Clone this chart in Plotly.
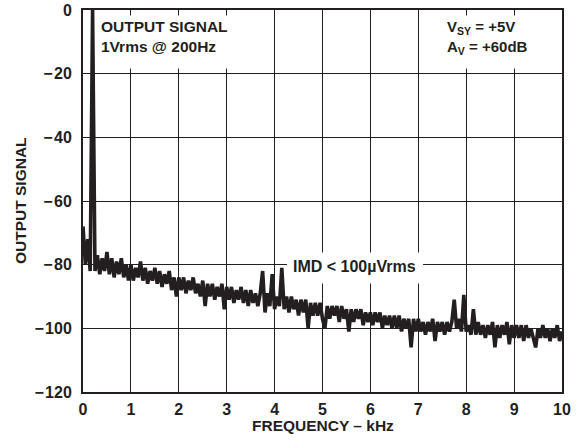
import plotly.graph_objects as go

# spectrum, 50 Hz bins
freq_khz = [
    0.00, 0.05, 0.10, 0.15, 0.20, 0.25, 0.30, 0.35, 0.40, 0.45,
    0.50, 0.55, 0.60, 0.65, 0.70, 0.75, 0.80, 0.85, 0.90, 0.95,
    1.00, 1.05, 1.10, 1.15, 1.20, 1.25, 1.30, 1.35, 1.40, 1.45,
    1.50, 1.55, 1.60, 1.65, 1.70, 1.75, 1.80, 1.85, 1.90, 1.95,
    2.00, 2.05, 2.10, 2.15, 2.20, 2.25, 2.30, 2.35, 2.40, 2.45,
    2.50, 2.55, 2.60, 2.65, 2.70, 2.75, 2.80, 2.85, 2.90, 2.95,
    3.00, 3.05, 3.10, 3.15, 3.20, 3.25, 3.30, 3.35, 3.40, 3.45,
    3.50, 3.55, 3.60, 3.65, 3.70, 3.75, 3.80, 3.85, 3.90, 3.95,
    4.00, 4.05, 4.10, 4.15, 4.20, 4.25, 4.30, 4.35, 4.40, 4.45,
    4.50, 4.55, 4.60, 4.65, 4.70, 4.75, 4.80, 4.85, 4.90, 4.95,
    5.00, 5.05, 5.10, 5.15, 5.20, 5.25, 5.30, 5.35, 5.40, 5.45,
    5.50, 5.55, 5.60, 5.65, 5.70, 5.75, 5.80, 5.85, 5.90, 5.95,
    6.00, 6.05, 6.10, 6.15, 6.20, 6.25, 6.30, 6.35, 6.40, 6.45,
    6.50, 6.55, 6.60, 6.65, 6.70, 6.75, 6.80, 6.85, 6.90, 6.95,
    7.00, 7.05, 7.10, 7.15, 7.20, 7.25, 7.30, 7.35, 7.40, 7.45,
    7.50, 7.55, 7.60, 7.65, 7.70, 7.75, 7.80, 7.85, 7.90, 7.95,
    8.00, 8.05, 8.10, 8.15, 8.20, 8.25, 8.30, 8.35, 8.40, 8.45,
    8.50, 8.55, 8.60, 8.65, 8.70, 8.75, 8.80, 8.85, 8.90, 8.95,
    9.00, 9.05, 9.10, 9.15, 9.20, 9.25, 9.30, 9.35, 9.40, 9.45,
    9.50, 9.55, 9.60, 9.65, 9.70, 9.75, 9.80, 9.85, 9.90, 9.95,
    10.00,
]
output_db = [
    -68, -80, -72, -82, 0, -82, -77, -83, -78, -82,
    -76, -83, -78, -84, -79, -83, -78, -84, -80, -85,
    -80, -85, -81, -84, -79, -85, -81, -86, -82, -85,
    -81, -86, -82, -87, -83, -86, -82, -88, -84, -90,
    -84, -88, -84, -89, -85, -88, -84, -89, -86, -90,
    -85, -93, -86, -90, -86, -91, -87, -90, -86, -94,
    -87, -91, -87, -92, -88, -91, -87, -92, -88, -93,
    -88, -92, -89, -93, -89, -82, -95, -89, -93, -83,
    -94, -90, -93, -81, -94, -90, -95, -90, -94, -91,
    -96, -91, -95, -91, -100, -92, -96, -92, -96, -92,
    -97, -100, -93, -97, -93, -96, -93, -98, -93, -97,
    -94, -101, -94, -98, -94, -97, -94, -99, -95, -98,
    -95, -99, -95, -98, -95, -100, -96, -99, -96, -100,
    -96, -100, -96, -101, -97, -100, -97, -106, -97, -101,
    -97, -101, -98, -102, -98, -101, -97, -104, -98, -101,
    -98, -102, -98, -101, -98, -91, -100, -97, -101, -89.5,
    -101, -99, -102, -94, -102, -98, -102, -99, -103, -99,
    -102, -98, -106, -99, -103, -99, -102, -98, -105, -99,
    -103, -99, -103, -99, -104, -99, -103, -100, -103, -106,
    -100, -103, -99, -103, -100, -104, -100, -103, -99, -104,
    -101,
]

x_ticks = [0, 1, 2, 3, 4, 5, 6, 7, 8, 9, 10]
y_ticks = [0, -20, -40, -60, -80, -100, -120]
y_tick_text = ["0", "\u2212\u200a20", "\u2212\u200a40", "\u2212\u200a60", "\u2212\u200a80",
               "\u2212\u200a100", "\u2212\u200a120"]

INK = "#231f20"
FONT = "Liberation Sans, Arial, sans-serif"

fig = go.Figure()
fig.add_trace(
    go.Scatter(
        x=freq_khz,
        y=output_db,
        mode="lines",
        line=dict(color=INK, width=3.6),
        showlegend=False,
        hoverinfo="skip",
    )
)

# white boxes behind the labels break the grid, as in the datasheet plot
for x0, x1, y0, y1 in [(0.24, 3.8, -1.7, -18.4), (7.25, 9.85, -1.7, -18.4), (4.26, 7.1, -76.2, -85.9)]:
    fig.add_shape(
        type="rect", xref="x", yref="y", x0=x0, x1=x1, y0=y0, y1=y1,
        fillcolor="white", line=dict(width=0), layer="between",
    )

fig.add_annotation(
    x=0.33, y=-1.8, xref="x", yref="y", xanchor="left", yanchor="top", align="left",
    text="<b>OUTPUT SIGNAL<br>1Vrms @ 200Hz</b>", showarrow=False,
    font=dict(family=FONT, size=15.5, color=INK),
)
fig.add_annotation(
    x=7.55, y=-1.8, xref="x", yref="y", xanchor="left", yanchor="top", align="left",
    text="<b>V<sub>SY</sub> = +5V<br>A<sub>V</sub> = +60dB</b>", showarrow=False,
    font=dict(family=FONT, size=15, color=INK),
)
fig.add_annotation(
    x=5.67, y=-80.5, xref="x", yref="y", xanchor="center", yanchor="middle",
    text="<b>IMD < 100\u00b5Vrms</b>", showarrow=False,
    font=dict(family=FONT, size=16, color=INK),
)
fig.add_annotation(
    x=0.5, y=0, xref="paper", yref="paper", xanchor="center", yanchor="middle", yshift=-33,
    text="<b>FREQUENCY \u2013 kHz</b>", showarrow=False,
    font=dict(family=FONT, size=15.5, color=INK),
)
fig.add_annotation(
    x=0, y=0.5, xref="paper", yref="paper", xanchor="center", yanchor="middle", xshift=-63,
    text="<b>OUTPUT SIGNAL</b>", textangle=-90, showarrow=False,
    font=dict(family=FONT, size=15.5, color=INK),
)

axis_common = dict(
    showgrid=True, gridcolor=INK, gridwidth=1,
    showline=True, linecolor=INK, linewidth=2, mirror=True,
    ticks="", zeroline=False, automargin=False,
    tickfont=dict(family=FONT, size=16, color=INK),
)
fig.update_xaxes(
    range=[0, 10], tickvals=x_ticks, ticktext=[f"<b>{t}</b>" for t in x_ticks],
    ticklabelstandoff=2, **axis_common,
)
fig.update_yaxes(
    range=[-120, 0], tickvals=y_ticks, ticktext=[f"<b>{t}</b>" for t in y_tick_text],
    ticklabelstandoff=6, **axis_common,
)
fig.update_layout(
    width=577, height=441,
    margin=dict(l=83, r=15, t=10, b=49),
    paper_bgcolor="white", plot_bgcolor="white",
    font=dict(family=FONT, color=INK),
)

# the page body has a default 8px margin that would push the chart off-frame
fig.write_html(
    "out.html",
    config={"displayModeBar": False},
    post_script="document.body.style.margin='0';",
)
